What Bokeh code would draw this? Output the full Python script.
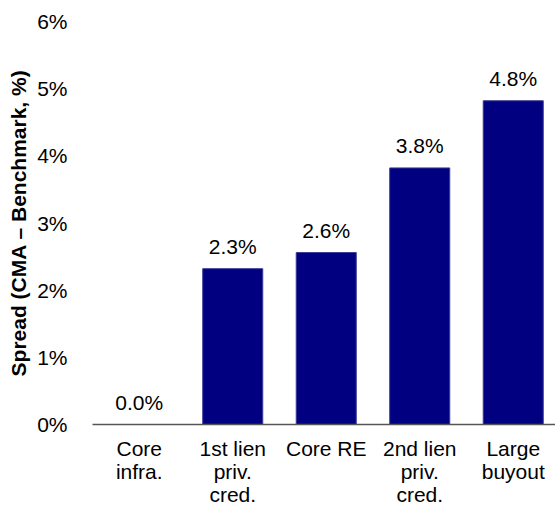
from bokeh.plotting import figure
from bokeh.models import Range1d, FixedTicker, ColumnDataSource
from bokeh.core.properties import value
from bokeh.embed import file_html
from bokeh.resources import INLINE

categories = ["Core\ninfra.", "1st lien\npriv.\ncred.", "Core RE", "2nd lien\npriv.\ncred.", "Large\nbuyout"]
spreads = [0.0, 2.32, 2.56, 3.82, 4.82]
y_ticks = [0, 1, 2, 3, 4, 5, 6]
y_tick_labels = ["0%", "1%", "2%", "3%", "4%", "5%", "6%"]

xs = list(range(len(categories)))
labels = [f"{v:.1f}%" for v in spreads]
src = ColumnDataSource(dict(x=xs, top=spreads, label=labels))

FONT = "Liberation Sans"

p = figure(width=555, height=508, output_backend="svg", toolbar_location=None,
           x_range=Range1d(-0.5, 4.452), y_range=Range1d(0, 6),
           min_border_left=92, min_border_right=0, min_border_top=21, min_border_bottom=83)
p.outline_line_color = None
p.background_fill_color = "white"
p.border_fill_color = "white"
p.grid.grid_line_color = None

p.vbar(x="x", top="top", width=0.642, source=src, fill_color="#000080", line_color="#3a3a96", line_width=1)

p.text(x="x", y="top", text="label", source=src, y_offset=-22,
       text_align="center", text_baseline="middle",
       text_font=value(FONT), text_font_size="21px", text_color="#000000")

# x axis
xa = p.xaxis[0]
xa.ticker = FixedTicker(ticks=xs)
xa.major_label_overrides = {i: c for i, c in zip(xs, categories)}
xa.major_tick_line_color = None
xa.minor_tick_line_color = None
xa.axis_line_color = "#555555"
xa.axis_line_width = 1.5
xa.major_label_text_font = FONT
xa.major_label_text_font_size = "21px"
xa.major_label_text_color = "#000000"
xa.major_label_standoff = 6
xa.major_label_text_line_height = 1.0

# y axis
ya = p.yaxis[0]
ya.ticker = FixedTicker(ticks=y_ticks)
ya.major_label_overrides = {t: l for t, l in zip(y_ticks, y_tick_labels)}
ya.axis_line_color = None
ya.major_tick_line_color = None
ya.minor_tick_line_color = None
ya.major_label_text_font = FONT
ya.major_label_text_font_size = "21px"
ya.major_label_text_color = "#000000"
ya.major_label_standoff = 19
ya.axis_label = "Spread (CMA \u2013 Benchmark, %)"
ya.axis_label_text_font = FONT
ya.axis_label_text_font_size = "21px"
ya.axis_label_text_font_style = "bold"
ya.axis_label_text_color = "#000000"
ya.axis_label_standoff = 4

open("out.html", "w").write(file_html(p, INLINE))
